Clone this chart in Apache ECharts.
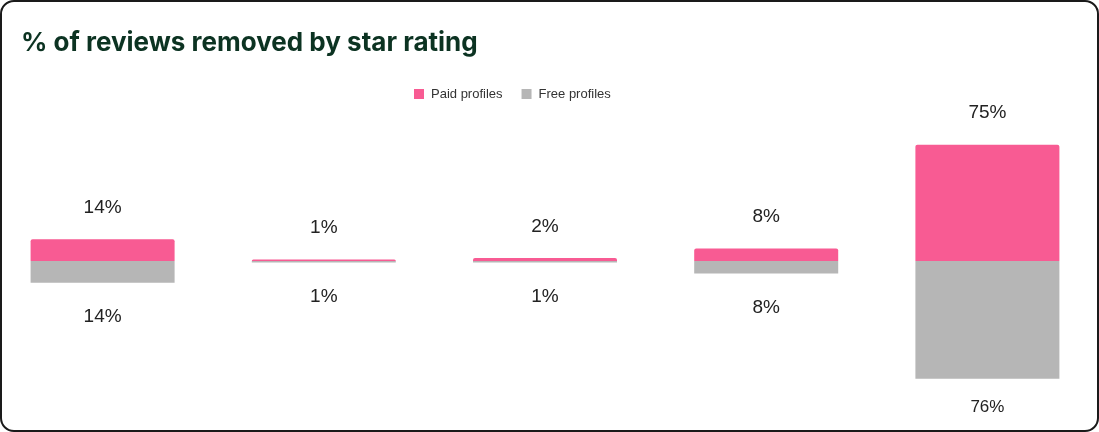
<!DOCTYPE html>
<html>
<head>
<meta charset="utf-8">
<script src="https://cdn.jsdelivr.net/npm/echarts@6/dist/echarts.min.js"></script>
<style>
  html, body { margin: 0; padding: 0; background: #fff; overflow: hidden; }
  body { position: relative; width: 1099px; height: 432px; }
  #chart { position: absolute; left: -20px; top: 0; width: 1140px; height: 432px; }
  #card {
    position: absolute; left: 0; top: 0; width: 1099px; height: 432px;
    box-sizing: border-box; border: 2px solid #1a1a1a; border-radius: 14px;
    pointer-events: none;
  }
</style>
</head>
<body>
<div id="chart"></div>
<div id="card"></div>
<script>
// star rating buckets (axis hidden in the original)
const categories = ["1 star", "2 stars", "3 stars", "4 stars", "5 stars"];
// % of reviews removed
const paidValues = [14, 1, 2, 8, 75];
const freeValues = [14, 1, 1, 8, 76];

const PINK = "#f85b93";
const GREY = "#b6b6b6";
// chart div sits 20px left of the card so the outer bars can reach the edges
const OFF = 20;

const chart = echarts.init(document.getElementById("chart"), null, { renderer: "canvas" });

chart.setOption({
  animation: false,
  backgroundColor: "transparent",
  title: {
    text: "% of reviews removed by star rating",
    left: OFF + 21,
    top: 30,
    padding: 0,
    textStyle: { fontFamily: "Inter", fontWeight: 700, fontSize: 26, color: "#0c3322" },
  },
  legend: {
    data: ["Paid profiles", "Free profiles"],
    top: 87,
    left: OFF + 414,
    padding: 0,
    itemWidth: 10,
    itemHeight: 10,
    itemGap: 19,
    icon: "rect",
    textStyle: {
      fontFamily: "Liberation Sans",
      fontSize: 13,
      lineHeight: 14,
      color: "#333",
      padding: [0, 0, 0, 2],
    },
  },
  grid: { left: OFF - 8, width: 1106, top: 106, height: 310 },
  xAxis: { type: "category", data: categories, show: false },
  yAxis: { type: "value", min: -100, max: 100, show: false },
  series: [
    {
      name: "Paid profiles",
      type: "bar",
      data: paidValues,
      barWidth: 144,
      barGap: "-100%",
      itemStyle: { color: PINK, borderRadius: [2, 2, 0, 0] },
      label: {
        show: true,
        position: "top",
        distance: 22,
        formatter: (p) => p.value + "%",
        fontFamily: "Liberation Sans",
        fontSize: 19,
        color: "#222",
      },
    },
    {
      name: "Free profiles",
      type: "bar",
      data: freeValues.map((v, i) => ({
        value: -v,
        label: i === freeValues.length - 1 ? { fontSize: 17, distance: 20 } : undefined,
      })),
      barWidth: 144,
      itemStyle: { color: GREY },
      label: {
        show: true,
        position: "bottom",
        distance: 25,
        formatter: (p) => Math.abs(p.value) + "%",
        fontFamily: "Liberation Sans",
        fontSize: 19,
        color: "#222",
      },
    },
  ],
});
</script>
</body>
</html>
